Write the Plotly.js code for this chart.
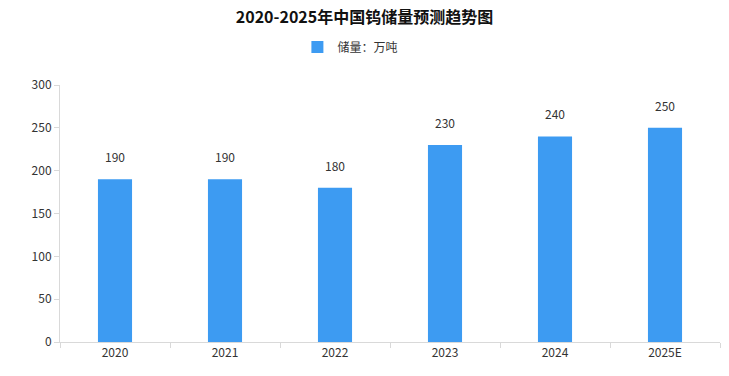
<!DOCTYPE html>
<html><head><meta charset="utf-8">
<script src="https://cdn.plot.ly/plotly-3.0.1.min.js"></script>
<style>html,body{margin:0;padding:0;background:#fff;}#chart{width:729px;height:376px;}</style>
</head><body><div id="chart"></div>
<script>
const categories = ["2020","2021","2022","2023","2024","2025E"];
const reserves = [190,190,180,230,240,250];
const seriesName = "储量：万吨";
const titleText = "2020-2025年中国钨储量预测趋势图";
const yTicks = [0,50,100,150,200,250,300];

const font = "'Noto Sans CJK SC', 'Liberation Sans', sans-serif";
const data = [{
  type: "bar", x: categories, y: reserves, name: seriesName,
  marker: {color: "#3d9bf2"}, width: 0.31
}];
const annotations = categories.map((c, i) => ({
  x: i, y: reserves[i], xref: "x", yref: "y", text: String(reserves[i]),
  showarrow: false, yanchor: "bottom", yshift: 12,
  font: {size: 12, color: "#333", family: font}
}));
const layout = {
  width: 729, height: 376,
  margin: {l: 60, r: 9, t: 85, b: 34},
  paper_bgcolor: "#fff", plot_bgcolor: "#fff",
  font: {family: font, color: "#333", size: 12},
  title: {text: "<b>" + titleText + "</b>", x: 0.5, xanchor: "center", y: 0.955, yanchor: "middle", font: {size: 16, color: "#111", family: font}},
  showlegend: true,
  legend: {orientation: "h", x: 0.44, xanchor: "center", y: 1.148, yanchor: "middle", itemwidth: 30, font: {size: 12, color: "#333"}},
  annotations: annotations,
  xaxis: {type: "category", range: [-0.5, 5.5], showline: true, linecolor: "#d9d9d9", ticks: "outside", tickson: "boundaries", tickcolor: "#d9d9d9", ticklen: 5, showgrid: false, tickfont: {size: 12, color: "#333"}},
  yaxis: {range: [0, 300], tickvals: yTicks, showline: true, linecolor: "#d9d9d9", ticks: "outside", tickcolor: "#d9d9d9", ticklen: 5, showgrid: false, zeroline: false, tickfont: {size: 12, color: "#333"}}
};
Plotly.newPlot("chart", data, layout, {displayModeBar: false, staticPlot: true});
</script></body></html>
